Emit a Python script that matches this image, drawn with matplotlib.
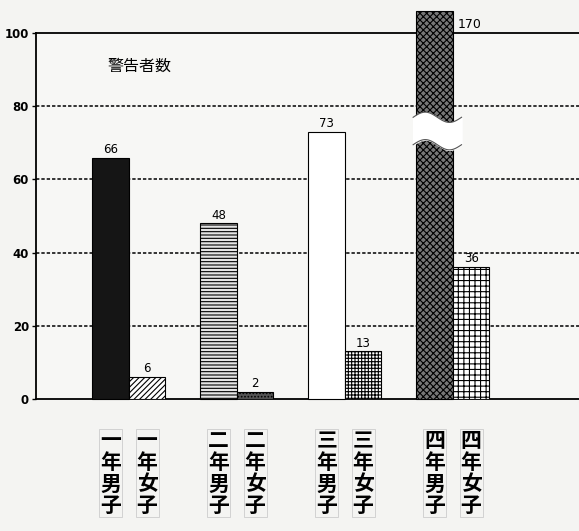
import matplotlib
matplotlib.use("Agg")
import matplotlib.pyplot as plt
import numpy as np

plt.rcParams["font.family"] = ["Noto Sans CJK JP", "DejaVu Sans"]
plt.rcParams["hatch.linewidth"] = 0.8

# data
grades = ["一年", "二年", "三年", "四年"]
boys = [66, 48, 73, 170]
girls = [6, 2, 13, 36]
yticks = [0, 20, 40, 60, 80, 100]
title = "警告者数"

# display cap for the broken bar (value exceeds axis)
cap = 106

boy_styles = [
    dict(facecolor="#151515", hatch=None),
    dict(facecolor="#e4e4e4", hatch="-----"),
    dict(facecolor="white", hatch=None),
    dict(facecolor="#777777", hatch="xxxxx"),
]
girl_styles = [
    dict(facecolor="white", hatch="//////"),
    dict(facecolor="#555555", hatch="....."),
    dict(facecolor="white", hatch="+++++"),
    dict(facecolor="white", hatch="+++"),
]

fig = plt.figure(figsize=(5.79, 5.31), dpi=100)
fig.patch.set_facecolor("#f4f4f2")
ax = fig.add_axes([0.062, 0.2486, 0.95, 0.689])
ax.set_facecolor("#f7f7f5")

w = 0.338
x = np.arange(len(grades))
ax.set_xlim(-0.861, -0.861 + 0.95 * 579 / 108)
ax.set_ylim(0, 100)

for i in range(len(grades)):
    hb = min(boys[i], cap)
    ax.bar(x[i] - w / 2, hb, width=w, edgecolor="black", linewidth=0.8,
           clip_on=False, zorder=3, **boy_styles[i])
    ax.bar(x[i] + w / 2, girls[i], width=w, edgecolor="black", linewidth=0.8,
           zorder=3, **girl_styles[i])
    if boys[i] > cap:
        ax.text(x[i] + 0.04, 100.5, str(boys[i]), fontsize=9,
                family="DejaVu Sans", va="bottom", ha="left", zorder=4)
        # break symbol
        xs = np.linspace(x[i] - w - 0.03, x[i] + 0.08, 60)
        t = (xs - xs[0]) / (xs[-1] - xs[0])
        wave = 1.4 * np.sin(2 * np.pi * t)
        top = 77.0 + wave
        bot = 69.5 + wave
        ax.fill_between(xs, bot, top, color="white", zorder=5, clip_on=False)
        ax.plot(xs, top, color="#555555", lw=0.8, zorder=6)
        ax.plot(xs, bot, color="#555555", lw=0.8, zorder=6)
    else:
        ax.text(x[i] - w / 2, hb + 0.5, str(boys[i]), fontsize=8.5,
                family="DejaVu Sans", ha="center", va="bottom", zorder=4)
    ax.text(x[i] + w / 2, girls[i] + 0.5, str(girls[i]), fontsize=8.5,
            family="DejaVu Sans", ha="center", va="bottom", zorder=4)

    for xpos, label in [(x[i] - w / 2, grades[i] + "男子"),
                        (x[i] + w / 2, grades[i] + "女子")]:
        ax.text(xpos, -8.5, "\n".join(label), fontsize=15, weight="bold",
                ha="center", va="top", linespacing=1.04, clip_on=False,
                bbox=dict(boxstyle="square,pad=0.05", facecolor="none",
                          edgecolor="#cccccc", linewidth=0.6))

for v in yticks[1:-1]:
    ax.axhline(v, color="black", lw=1.1, ls=(0, (2.2, 1.3)), zorder=1)

ax.spines["right"].set_visible(False)
ax.spines["top"].set_linewidth(1.3)
ax.spines["left"].set_linewidth(1.3)
ax.spines["bottom"].set_linewidth(1.3)
ax.set_xticks([])
ax.set_yticks(yticks)
ax.set_yticklabels([str(v) for v in yticks], family="DejaVu Sans",
                   fontsize=8.5, weight="bold")
ax.tick_params(axis="y", length=3, width=1, pad=2)

ax.text(0.13, 0.91, title, transform=ax.transAxes, fontsize=11.5,
        ha="left", va="center")

fig.savefig("out.png", dpi=100, facecolor=fig.get_facecolor())
